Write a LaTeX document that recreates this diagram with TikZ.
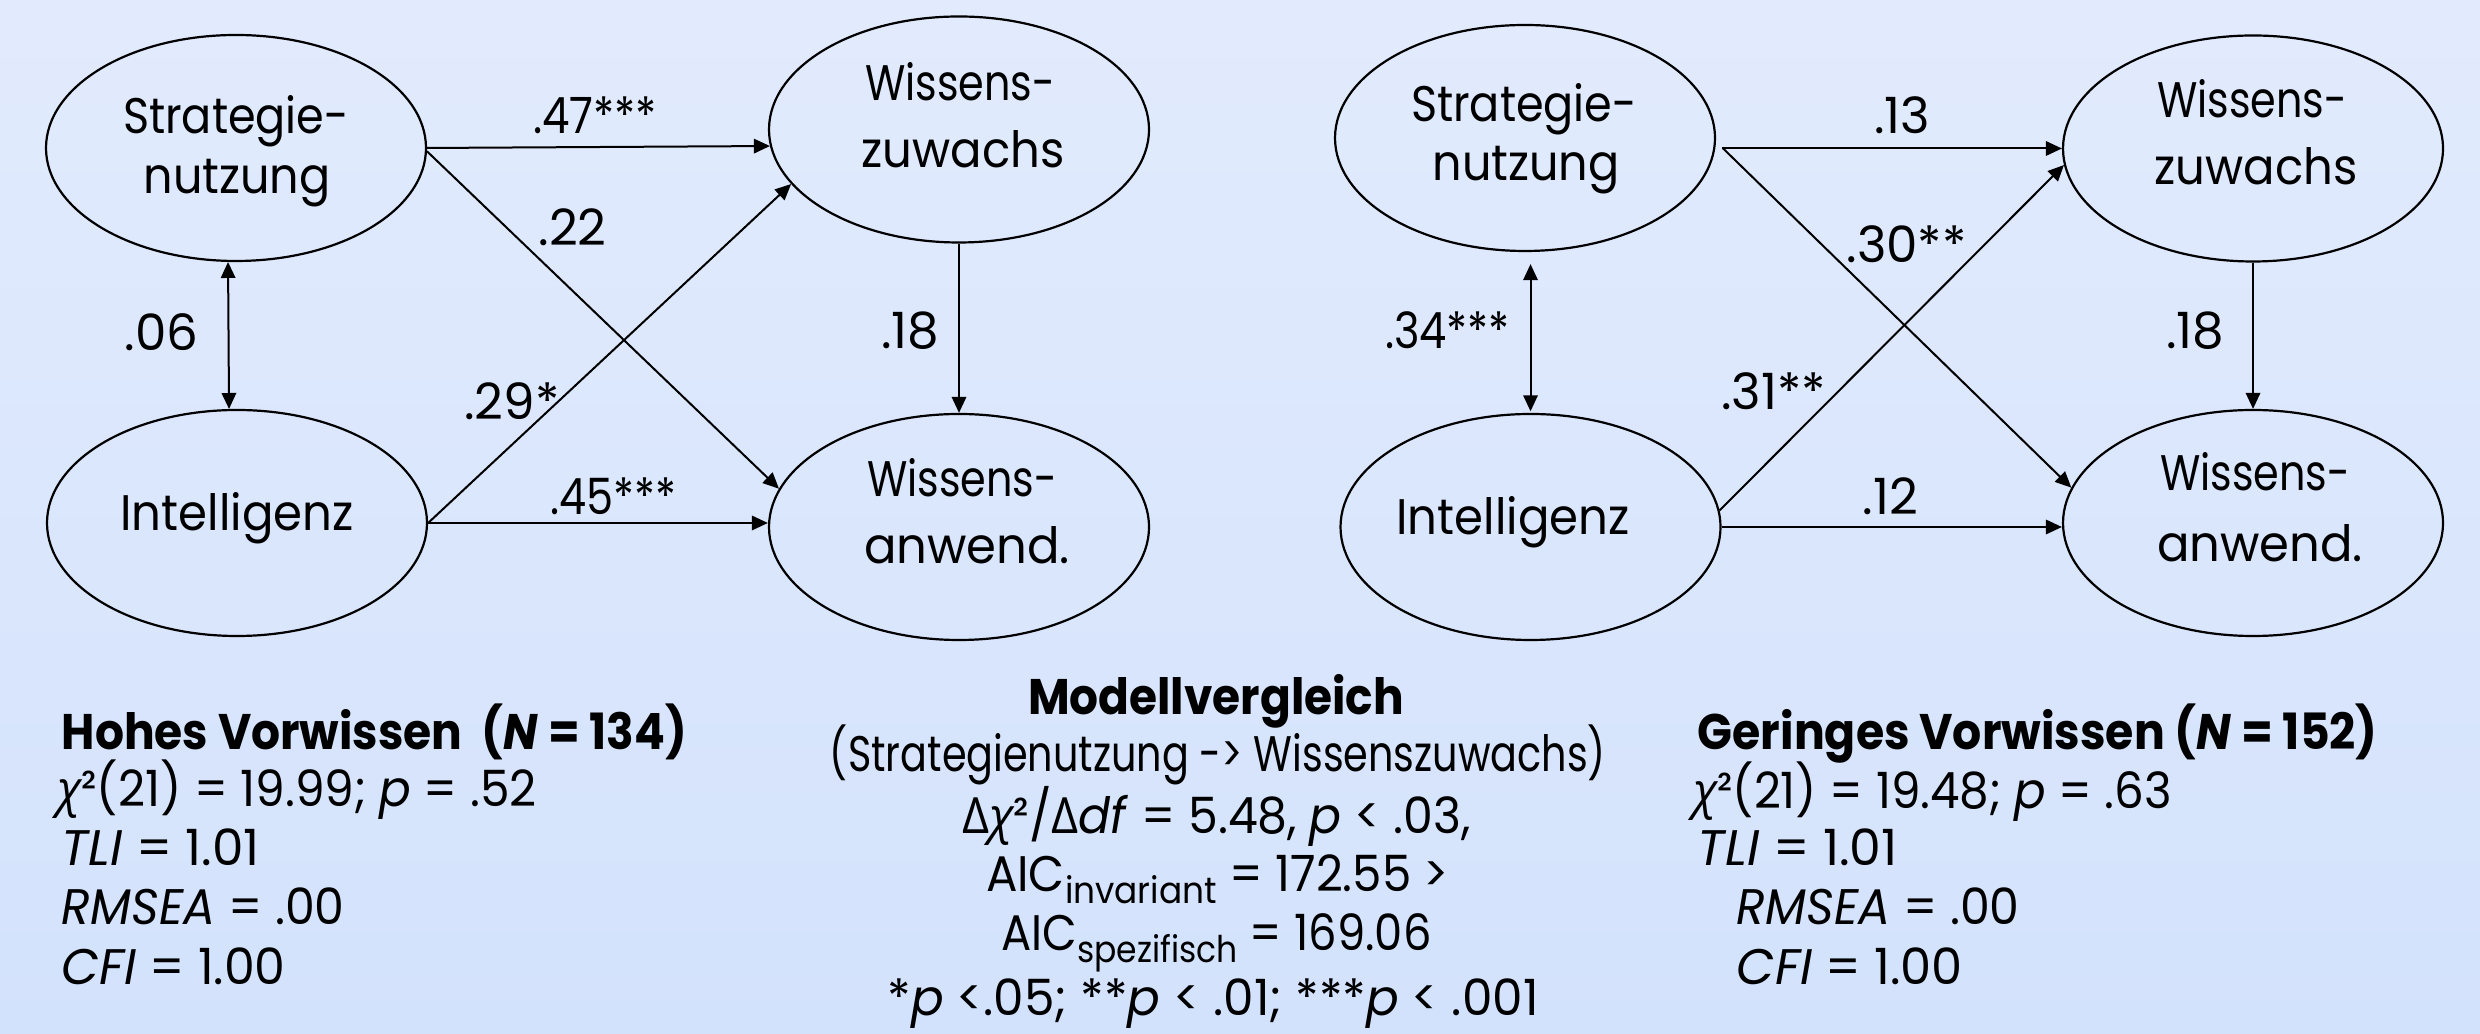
\documentclass[tikz,border=0pt]{standalone}
\usepackage{fontspec}
\usepackage{graphicx}
\setmainfont{Poppins}
\newfontfamily\grk{Open Sans}
\usetikzlibrary{arrows.meta,shapes.geometric,calc}
\definecolor{bgtop}{RGB}{226,235,253}
\definecolor{bgbot}{RGB}{211,226,252}
\newlength\pxu
\setlength\pxu{0.25pt}
\newcommand\mytxt{\fontsize{12.5pt}{15pt}\selectfont}
\newcommand\subtxt[1]{\raisebox{-0.45ex}{\fontsize{9.2pt}{9.2pt}\selectfont #1}}
\newcommand\fw[2]{\resizebox{#1\pxu}{\height}{#2}}
\begin{document}
\begin{tikzpicture}[x=0.25pt,y=-0.25pt,
  ell/.style={draw,line width=0.55pt,ellipse,minimum width=95pt,minimum height=56.5pt,inner sep=0pt},
  arr/.style={line width=0.5pt,-{Triangle[length=4pt,width=3.6pt]}},
  darr/.style={line width=0.5pt,{Triangle[length=4pt,width=3.6pt]}-{Triangle[length=4pt,width=3.6pt]}},
  lab/.style={anchor=base,font=\mytxt,inner sep=0pt},
  bl/.style={anchor=base west,font=\mytxt,inner sep=0pt}]
\shade[top color=bgtop,bottom color=bgbot] (0,0) rectangle (2480,1034);
\useasboundingbox (0,0) rectangle (2480,1034);
% ellipses
\node[ell] (S1) at (236,148) {};
\node[ell] (Z1) at (959,129.5) {};
\node[ell] (I1) at (237,523) {};
\node[ell] (A1) at (959,527) {};
\node[ell] (S2) at (1525,138) {};
\node[ell] (Z2) at (2253,148.5) {};
\node[ell] (I2) at (1530.5,527) {};
\node[ell] (A2) at (2253,523) {};
% ellipse texts
\node[lab] (S1a) at (236,134) {\fw{226}{Strategie-}};
\node[lab] (S1b) at (237,194) {\fw{187}{nutzung}};
\node[lab] (Z1a) at (960,101) {\fw{190}{Wissens-}};
\node[lab] (Z1b) at (963,168) {\fw{203}{zuwachs}};
\node[lab] (I1a) at (237,531) {\fw{233}{Intelligenz}};
\node[lab] (A1a) at (962,497) {\fw{190}{Wissens-}};
\node[lab] (A1b) at (967,564) {\fw{206}{anwend.}};
\node[lab] (S2a) at (1524,122) {\fw{226}{Strategie-}};
\node[lab] (S2b) at (1526,181) {\fw{187}{nutzung}};
\node[lab] (Z2a) at (2252,118) {\fw{190}{Wissens-}};
\node[lab] (Z2b) at (2256,185) {\fw{203}{zuwachs}};
\node[lab] (I2a) at (1513,535) {\fw{233}{Intelligenz}};
\node[lab] (A2a) at (2255,491) {\fw{190}{Wissens-}};
\node[lab] (A2b) at (2260,562) {\fw{206}{anwend.}};
% connectors left
\draw[arr] (S1.east) -- (Z1.185.7);
\draw[arr] (S1.-1.7) -- (A1.168.9);
\draw[arr] (I1.east) -- (Z1.198.1);
\draw[arr] (I1.east) -- (I1.east -| A1.west);
\draw[arr] (Z1) -- (A1);
\draw[darr] (S1.266.6) -- (I1.94.1);
% connectors right
\draw[arr,shorten <=1.5pt] (S2.east |- Z2.west) -- (Z2.west);
\draw[arr] ($(S2.east |- Z2.west)+(7,0)$) -- (A2.169);
\draw[arr] (I2.5.4) -- (Z2.185.5);
\draw[arr] (I2.east) -- (I2.east -| A2.west);
\draw[arr] (Z2) -- (A2);
\draw[darr,shorten <=3pt,shorten >=0.4pt] (S2.south -| I2.north) -- (I2.north);
% path labels
\node[lab] (l1) at (595,134) {\fw{124}{.47***}};
\node[lab] (l2) at (572.5,246) {.22};
\node[lab] (l3) at (161.5,351) {.06};
\node[lab] (l4) at (910.5,349) {.18};
\node[lab] (l5) at (512,420) {.29*};
\node[lab] (l6) at (613.5,515) {\fw{126}{.45***}};
\node[lab] (r1) at (1902,134) {.13};
\node[lab] (r2) at (1906.5,263) {.30**};
\node[lab] (r3) at (1447.5,349) {\fw{125}{.34***}};
\node[lab] (r4) at (1773.5,410) {.31**};
\node[lab] (r5) at (2195,349) {.18};
\node[lab] (r6) at (1890.5,515) {.12};
% left block
\node[bl] (h1) at (61,750) {\fw{625}{\bfseries Hohes Vorwissen\ \ (\textit{N} = 134)}};
\node[bl] (h2) at (57,807) {\fw{479}{{\grk\itshape χ}²(21) = 19.99; \textit{p} = .52}};
\node[bl] (h3) at (61,866) {\fw{198}{\textit{TLI} = 1.01}};
\node[bl] (h4) at (61,925) {\fw{283}{\textit{RMSEA} = .00}};
\node[bl] (h5) at (61,984) {\fw{224}{\textit{CFI} = 1.00}};
% middle block
\node[lab] (m1) at (1216,715) {\fw{376}{\bfseries Modellvergleich}};
\node[lab] (m2) at (1218,772) {\fw{776}{(Strategienutzung -> Wissenszuwachs)}};
\node[lab] (m3) at (1216.5,833) {\fw{508}{{\grk Δ\itshape χ}²/{\grk Δ}\textit{df} = 5.48, \textit{p} < .03,}};
\node[lab] (m4) at (1217.5,891) {\fw{463}{AIC\subtxt{invariant} = 172.55 >}};
\node[lab] (m5) at (1216.5,950) {\fw{430}{AIC\subtxt{spezifisch} = 169.06}};
\node[lab] (m6) at (1213,1015) {\fw{651}{*\textit{p} <.05; **\textit{p} < .01; ***\textit{p} < .001}};
% right block
\node[bl] (g1) at (1697,750) {\fw{680}{\bfseries Geringes Vorwissen (\textit{N} = 152)}};
\node[bl] (g2) at (1693,809) {\fw{478}{{\grk\itshape χ}²(21) = 19.48; \textit{p} = .63}};
\node[bl] (g3) at (1697,866) {\fw{200}{\textit{TLI} = 1.01}};
\node[bl] (g4) at (1736,925) {\fw{283}{\textit{RMSEA} = .00}};
\node[bl] (g5) at (1736,984) {\fw{226}{\textit{CFI} = 1.00}};
\end{tikzpicture}
\end{document}
